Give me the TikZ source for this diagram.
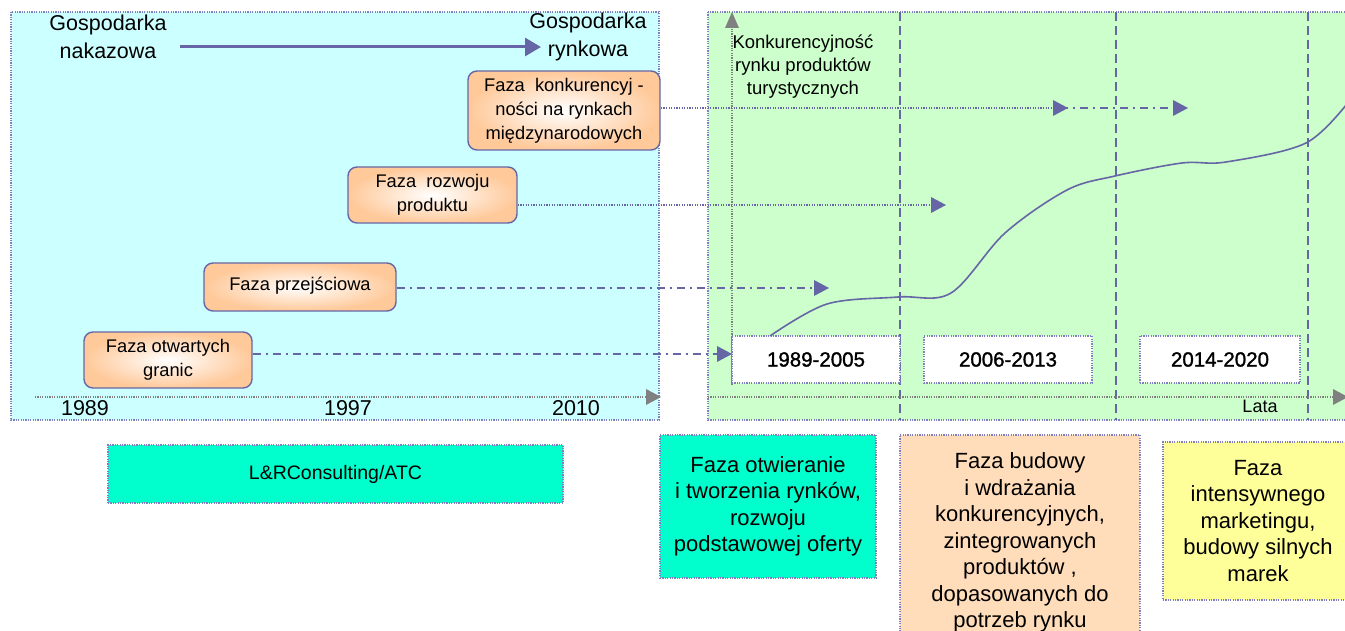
\documentclass[tikz,border=0pt]{standalone}
\usepackage{fontspec}
\setmainfont{Liberation Sans}
\newfontfamily\semib[FakeBold=1.3]{Liberation Sans}
\usetikzlibrary{arrows.meta}
\definecolor{cyanbg}{HTML}{CCFFFF}
\definecolor{greenbg}{HTML}{CCFFCC}
\definecolor{bordc}{HTML}{8080C0}
\definecolor{purp}{HTML}{6666A6}
\definecolor{grayax}{HTML}{808080}
\definecolor{orangeb}{HTML}{FFC99A}
\definecolor{tealb}{HTML}{00FFCC}
\definecolor{peachb}{HTML}{FFDDBB}
\definecolor{yelb}{HTML}{FFFF99}
\tikzset{
  dotb/.style={draw=bordc, line width=1.2pt, dash pattern=on 1.2pt off 1.2pt},
  phasebox/.style={draw=purp, line width=1.4pt, rounded corners=9pt, inner color=white, outer color=orangeb, align=center, inner sep=0pt, font=\fontsize{18.3}{24}\selectfont},
  yearbox/.style={dotb, fill=white, minimum width=#1, minimum height=47pt, font=\semib\fontsize{20.5}{24}\selectfont},
  descbox/.style={dotb, align=center, inner sep=0pt, font=\fontsize{22}{26.5}\selectfont},
  dotcon/.style={purp, line width=1.3pt, dash pattern=on 1.3pt off 1.3pt},
  dashdotcon/.style={purp, line width=1.5pt, dash pattern=on 8pt off 5pt on 2pt off 5pt},
  vdash/.style={purp, line width=1.5pt, dash pattern=on 9pt off 5pt},
  plain/.style={inner sep=0pt, align=center}
}
\begin{document}
\begin{tikzpicture}[x=1pt,y=-1pt]
\useasboundingbox (0,0) rectangle (1345,631);
\clip (0,0) rectangle (1345,631);
% panels
\fill[cyanbg] (11,12) rectangle (659,420);
\draw[dotb] (11,12) rectangle (659,420);
\fill[greenbg] (708,12) rectangle (1360,420);
\draw[dotb] (708,12) rectangle (1360,420);
% header
\node[plain, font=\fontsize{21.5}{28}\selectfont] (gn) at (108,37) {Gospodarka\\nakazowa};
\node[plain, font=\fontsize{21.5}{28}\selectfont] (gr) at (588,37) {Gospodarka\\rynkowa};
\coordinate (hA) at (180,47);
\coordinate (hB) at (541,47);
\draw[purp, line width=3pt, -{Triangle[length=16pt,width=18pt]}] (hA) -- (hB);
% left axis
\coordinate (laA) at (35,397);
\coordinate (laB) at (661,397);
\draw[grayax, line width=1.2pt, dash pattern=on 1.2pt off 1.2pt] (laA) -- (646,397);
\fill[grayax] (646,389) -- (laB) -- (646,405) -- cycle;
\node[plain, font=\fontsize{21.5}{24}\selectfont] (y1) at (85,408) {1989};
\node[plain, font=\fontsize{21.5}{24}\selectfont] (y2) at (348,408) {1997};
\node[plain, font=\fontsize{21.5}{24}\selectfont] (y3) at (576,408) {2010};
% right panel: vertical dashed separators
\foreach \xx/\nm in {900/s1,1116/s2,1308/s3}{
  \coordinate (\nm t) at (\xx,12);
  \coordinate (\nm b) at (\xx,420);
  \draw[vdash] (\nm t) -- (\nm b);
}
% vertical axis
\coordinate (vaB) at (732,385);
\coordinate (vaT) at (732,12);
\draw[grayax, line width=1.2pt, dash pattern=on 1.2pt off 1.2pt] (vaB) -- (732,28);
\fill[grayax] (725,28) -- (vaT) -- (739,28) -- cycle;
\node[plain, font=\fontsize{18.5}{23}\selectfont] (konk) at (803,67) {Konkurencyjność\\rynku produktów\\turystycznych};
% horizontal axis right
\coordinate (haA) at (708,397);
\coordinate (haB) at (1348,397);
\draw[grayax, line width=1.2pt, dash pattern=on 1.2pt off 1.2pt] (haA) -- (1333,397);
\fill[grayax] (1333,389) -- (haB) -- (1333,405) -- cycle;
\node[plain, font=\fontsize{18}{20}\selectfont] (lata) at (1260,406) {Lata};
% year boxes
\node[yearbox=168pt] (yb1) at (816,359.5) {1989-2005};
\node[yearbox=168pt] (yb2) at (1008,359.5) {2006-2013};
\node[yearbox=160pt] (yb3) at (1220,359.5) {2014-2020};
% curve
\draw[purp, line width=1.6pt] plot[smooth, tension=0.55] coordinates {(770,336) (827,304) (898,297) (951,293) (1005,233) (1067,190) (1115,176) (1182,163) (1226,162) (1306,143) (1350,100)};
% phase boxes
\node[phasebox, minimum width=192pt, minimum height=79pt] (p1) at (564,110.5) {Faza\ \ konkurencyj -\\ności na rynkach\\międzynarodowych};
\node[phasebox, minimum width=169pt, minimum height=56pt] (p2) at (432.5,195) {Faza\ \ rozwoju\\produktu};
\node[phasebox, minimum width=192pt, minimum height=48pt] (p3) at (300,287) {\raisebox{6pt}{Faza przejściowa}};
\node[phasebox, minimum width=168pt, minimum height=56pt] (p4) at (168,360) {Faza otwartych\\granic};
% connectors
\coordinate (c1a) at (1068,108);
\coordinate (c1b) at (1188,108);
\coordinate (c2) at (946,205);
\coordinate (c3) at (829,288);
\coordinate (c4) at (732,354);
\draw[dotcon] (p1.east |- c1a) -- (1053,108);
\draw[dashdotcon] (1060,108) -- (1175,108);
\fill[purp] (1053,100) -- (c1a) -- (1053,116) -- cycle;
\fill[purp] (1173,100) -- (c1b) -- (1173,116) -- cycle;
\draw[dotcon] (p2.east |- c2) -- (931,205);
\fill[purp] (931,197) -- (c2) -- (931,213) -- cycle;
\draw[dashdotcon] (p3.east |- c3) -- (814,288);
\fill[purp] (814,280) -- (c3) -- (814,296) -- cycle;
\draw[dashdotcon] (p4.east |- c4) -- (717,354);
\fill[purp] (717,346) -- (c4) -- (717,362) -- cycle;
% bottom description boxes
\node[descbox, fill=tealb, minimum width=455pt, minimum height=58pt, font=\fontsize{19.5}{24}\selectfont] (lr) at (335.5,474) {\raisebox{4pt}{L\&RConsulting/ATC}};
\node[descbox, fill=tealb, minimum width=216pt, minimum height=143pt] (d1) at (768,506.5) {Faza otwieranie\\i tworzenia rynków,\\rozwoju\\podstawowej oferty};
\node[descbox, fill=peachb, minimum width=240pt, minimum height=215pt] (d2) at (1020,542.5) {Faza budowy\\i wdrażania\\konkurencyjnych,\\zintegrowanych\\produktów ,\\dopasowanych do\\potrzeb rynku};
\node[descbox, fill=yelb, minimum width=190pt, minimum height=158pt] (d3) at (1258,521) {Faza\\intensywnego\\marketingu,\\budowy silnych\\marek};
\end{tikzpicture}
\end{document}
